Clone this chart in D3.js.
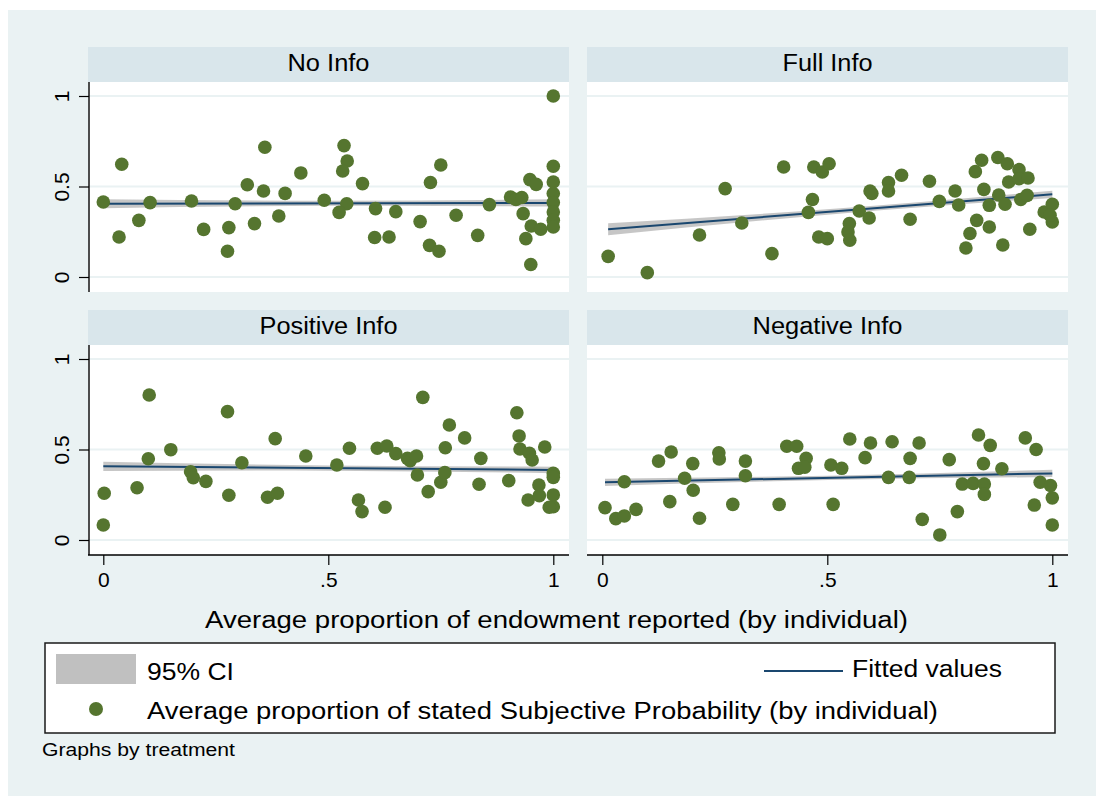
<!DOCTYPE html>
<html>
<head>
<meta charset="utf-8">
<script src="https://cdn.jsdelivr.net/npm/d3@7"></script>
<style>
    body { margin: 0; background: #fff; }
    svg { display: block; }
    text { font-family: "Liberation Sans", Arial, Helvetica, sans-serif; fill: #000; }
</style>
</head>
<body>
<div id="chart"></div>
<script>
const panelTitles = ["No Info", "Full Info", "Positive Info", "Negative Info"];

const noInfoX = [0, 0.041, 0.035, 0.079, 0.104, 0.196, 0.223, 0.279, 0.276, 0.293, 0.32, 0.336, 0.356, 0.359, 0.39,
    0.404, 0.439, 0.491, 0.535, 0.542, 0.532, 0.541, 0.524, 0.576, 0.605, 0.603, 0.635, 0.65, 0.704, 0.727,
    0.75, 0.725, 0.746, 0.784, 0.832, 0.858, 0.905, 0.917, 0.93, 0.933, 0.948, 0.962, 0.951, 0.939, 0.95,
    0.972, 1, 1, 1, 1, 1, 1, 1, 1];
const noInfoY = [0.414, 0.623, 0.221, 0.313, 0.411, 0.42, 0.263, 0.273, 0.142, 0.405, 0.51, 0.295, 0.475, 0.717, 0.337,
    0.462, 0.575, 0.424, 0.726, 0.641, 0.586, 0.405, 0.357, 0.516, 0.378, 0.218, 0.221, 0.361, 0.306, 0.522,
    0.619, 0.175, 0.142, 0.341, 0.23, 0.4, 0.442, 0.428, 0.439, 0.35, 0.538, 0.512, 0.282, 0.212, 0.069,
    0.264, 1.0, 0.612, 0.525, 0.461, 0.411, 0.359, 0.313, 0.276];

const fullInfoX = [0.013, 0.1, 0.216, 0.273, 0.31, 0.377, 0.403, 0.467, 0.458, 0.47, 0.489, 0.504, 0.481, 0.5, 0.549,
    0.546, 0.55, 0.571, 0.593, 0.595, 0.599, 0.636, 0.636, 0.665, 0.684, 0.727, 0.749, 0.784, 0.792, 0.808,
    0.817, 0.832, 0.829, 0.843, 0.848, 0.86, 0.86, 0.879, 0.881, 0.89, 0.895, 0.9, 0.903, 0.926, 0.926,
    0.946, 0.93, 0.944, 0.95, 0.982, 1, 1, 0.995];
const fullInfoY = [0.114, 0.024, 0.232, 0.488, 0.298, 0.129, 0.608, 0.428, 0.357, 0.608, 0.58, 0.626, 0.221, 0.212, 0.295,
    0.249, 0.203, 0.365, 0.326, 0.475, 0.461, 0.522, 0.475, 0.562, 0.319, 0.529, 0.418, 0.475, 0.398, 0.16,
    0.24, 0.313, 0.582, 0.645, 0.484, 0.396, 0.276, 0.66, 0.453, 0.177, 0.402, 0.626, 0.525, 0.593, 0.543,
    0.547, 0.428, 0.451, 0.264, 0.359, 0.402, 0.304, 0.341];

const positiveInfoX = [0, 0.002, 0.075, 0.102, 0.1, 0.15, 0.194, 0.2, 0.228, 0.276, 0.279, 0.308, 0.365, 0.387, 0.382,
    0.45, 0.519, 0.547, 0.567, 0.575, 0.609, 0.63, 0.626, 0.65, 0.676, 0.682, 0.696, 0.698, 0.71, 0.722,
    0.75, 0.759, 0.76, 0.769, 0.803, 0.835, 0.839, 0.901, 0.919, 0.924, 0.926, 0.947, 0.953, 0.944, 0.968,
    0.969, 0.981, 1, 1, 1, 1, 0.991];
const positiveInfoY = [0.083, 0.258, 0.289, 0.801, 0.449, 0.499, 0.377, 0.344, 0.324, 0.709, 0.247, 0.427, 0.236, 0.258, 0.56,
    0.464, 0.414, 0.507, 0.221, 0.157, 0.507, 0.519, 0.181, 0.477, 0.451, 0.438, 0.464, 0.359, 0.788, 0.267,
    0.319, 0.372, 0.51, 0.635, 0.564, 0.308, 0.451, 0.328, 0.703, 0.575, 0.503, 0.479, 0.442, 0.221, 0.304,
    0.245, 0.514, 0.368, 0.346, 0.249, 0.184, 0.181];

const negativeInfoX = [0.006, 0.03, 0.049, 0.049, 0.075, 0.125, 0.153, 0.15, 0.183, 0.201, 0.202, 0.216, 0.259, 0.26, 0.29,
    0.318, 0.318, 0.393, 0.41, 0.432, 0.453, 0.436, 0.45, 0.508, 0.532, 0.513, 0.55, 0.584, 0.596, 0.636,
    0.644, 0.684, 0.682, 0.704, 0.711, 0.75, 0.771, 0.789, 0.8, 0.824, 0.836, 0.847, 0.849, 0.849, 0.862,
    0.888, 0.94, 0.964, 0.973, 0.96, 0.996, 1, 1];
const negativeInfoY = [0.179, 0.118, 0.133, 0.322, 0.169, 0.436, 0.486, 0.212, 0.341, 0.422, 0.275, 0.12, 0.482, 0.448, 0.197,
    0.436, 0.355, 0.197, 0.518, 0.518, 0.451, 0.396, 0.402, 0.414, 0.396, 0.197, 0.558, 0.455, 0.536, 0.346,
    0.543, 0.451, 0.346, 0.536, 0.114, 0.028, 0.444, 0.157, 0.309, 0.313, 0.58, 0.422, 0.309, 0.252, 0.523,
    0.394, 0.564, 0.5, 0.319, 0.193, 0.301, 0.233, 0.083];

// fitted line value at smallest / largest x, and CI half width at start, middle, end
const fitStart = [0.405, 0.264, 0.407, 0.319];
const fitEnd = [0.409, 0.457, 0.387, 0.368];
const ciStart = [0.025, 0.033, 0.026, 0.02];
const ciMid = [0.014, 0.015, 0.014, 0.012];
const ciEnd = [0.02, 0.02, 0.018, 0.02];

const xTicks = [0, 0.5, 1];
const xTickLabels = ["0", ".5", "1"];
const yTicks = [0, 0.5, 1];
const yTickLabels = ["0", "0.5", "1"];

const legendLabels = ["95% CI", "Fitted values", "Average proportion of stated Subjective Probability (by individual)"];
const xTitle = "Average proportion of endowment reported (by individual)";
const noteText = "Graphs by treatment";

const panelX = [noInfoX, fullInfoX, positiveInfoX, negativeInfoX];
const panelY = [noInfoY, fullInfoY, positiveInfoY, negativeInfoY];

const width = 1096;
const height = 796;
const colLeft = [88, 587];
const rowTop = [47, 310];
const stripH = 35;
const plotW = 481;
const plotH = 210;

const bg = "#EAF2F3";
const stripColor = "#D9E6EB";
const dotColor = "#55752F";
const lineColor = "#1A476F";
const ciColor = "#C0C0C0";

const svg = d3.select("#chart")
    .append("svg")
    .attr("width", width)
    .attr("height", height);

svg.append("rect")
    .attr("x", 8).attr("y", 10)
    .attr("width", width - 8).attr("height", height - 10)
    .attr("fill", bg);

function fitText(sel, len) {
    sel.attr("textLength", len).attr("lengthAdjust", "spacingAndGlyphs");
    return sel;
}

const titleLen = [82, 90, 138, 150];

panelTitles.forEach((title, i) => {
    const col = i % 2;
    const row = Math.floor(i / 2);
    const left = colLeft[col];
    const stripTop = rowTop[row];
    const top = stripTop + stripH;

    const g = svg.append("g");

    g.append("rect")
        .attr("x", left).attr("y", stripTop)
        .attr("width", plotW).attr("height", stripH)
        .attr("fill", stripColor);

    fitText(g.append("text")
        .attr("x", left + plotW / 2)
        .attr("y", stripTop + 24)
        .attr("text-anchor", "middle")
        .style("font-size", "23px")
        .text(title), titleLen[i]);

    g.append("rect")
        .attr("x", left).attr("y", top)
        .attr("width", plotW).attr("height", plotH)
        .attr("fill", "#fff");

    const x = d3.scaleLinear().domain([0, 1]).range([left + 15.3, left + 465.3]);
    const y = d3.scaleLinear().domain([0, 1]).range([top + 195, top + 14]);

    // grid
    g.selectAll(".grid")
        .data(yTicks)
        .join("line")
        .attr("x1", left).attr("x2", left + plotW)
        .attr("y1", d => y(d)).attr("y2", d => y(d))
        .attr("stroke", bg)
        .attr("stroke-width", 2);

    const xs = panelX[i];
    const ys = panelY[i];
    const [xmin, xmax] = d3.extent(xs);
    const fit = v => fitStart[i] + (fitEnd[i] - fitStart[i]) * (v - xmin) / (xmax - xmin);
    const band = [
        { x: xmin, h: ciStart[i] },
        { x: (xmin + xmax) / 2, h: ciMid[i] },
        { x: xmax, h: ciEnd[i] }
    ];

    const area = d3.area()
        .x(d => x(d.x))
        .y0(d => y(fit(d.x) - d.h))
        .y1(d => y(fit(d.x) + d.h))
        .curve(d3.curveNatural);

    g.append("path")
        .datum(band)
        .attr("d", area)
        .attr("fill", ciColor)
        .attr("opacity", 0.9);

    g.append("line")
        .attr("x1", x(xmin)).attr("y1", y(fit(xmin)))
        .attr("x2", x(xmax)).attr("y2", y(fit(xmax)))
        .attr("stroke", lineColor)
        .attr("stroke-width", 2);

    g.selectAll(".dot")
        .data(d3.range(xs.length))
        .join("circle")
        .attr("cx", k => x(xs[k]))
        .attr("cy", k => y(ys[k]))
        .attr("r", 6.8)
        .attr("fill", dotColor);

    if (col === 0) {
        const ya = g.append("g")
            .attr("transform", "translate(" + (left + 1) + ",0)")
            .call(d3.axisLeft(y)
                .tickValues(yTicks)
                .tickSize(10)
                .tickSizeOuter(0)
                .tickFormat((d, k) => yTickLabels[k]));
        ya.select(".domain").remove();
        ya.append("line")
            .attr("x1", 0).attr("x2", 0)
            .attr("y1", top).attr("y2", top + plotH)
            .attr("stroke", "#000").attr("stroke-width", 1.4);
        ya.selectAll(".tick line").attr("stroke", "#000").attr("stroke-width", 1.2);
        ya.selectAll(".tick text")
            .attr("x", 0).attr("dy", 0)
            .attr("transform", "translate(-20,0) rotate(-90)")
            .attr("text-anchor", "middle")
            .style("font-size", "21px")
            .style("font-family", "'Liberation Sans', Arial, sans-serif")
            .attr("fill", "#000");
    }

    if (row === 1) {
        const xa = g.append("g")
            .attr("transform", "translate(0," + (top + plotH) + ")")
            .call(d3.axisBottom(x)
                .tickValues(xTicks)
                .tickSize(10)
                .tickSizeOuter(0)
                .tickFormat((d, k) => xTickLabels[k]));
        xa.select(".domain").remove();
        xa.append("line")
            .attr("x1", left).attr("x2", left + plotW)
            .attr("y1", 0).attr("y2", 0)
            .attr("stroke", "#000").attr("stroke-width", 1.4);
        xa.selectAll(".tick line").attr("stroke", "#000").attr("stroke-width", 1.2);
        xa.selectAll(".tick text")
            .attr("y", 32).attr("dy", 0)
            .style("font-size", "21px")
            .style("font-family", "'Liberation Sans', Arial, sans-serif")
            .attr("fill", "#000");
    }
});

// x axis title
fitText(svg.append("text")
    .attr("x", 556.5)
    .attr("y", 628)
    .attr("text-anchor", "middle")
    .style("font-size", "23px")
    .text(xTitle), 703);

// legend
const lg = svg.append("g");
lg.append("rect")
    .attr("x", 45).attr("y", 643)
    .attr("width", 1010).attr("height", 90)
    .attr("fill", "#fff")
    .attr("stroke", "#1a1a1a")
    .attr("stroke-width", 1.5);

lg.append("rect")
    .attr("x", 56).attr("y", 654)
    .attr("width", 80).attr("height", 30)
    .attr("fill", ciColor);
fitText(lg.append("text").attr("x", 147).attr("y", 680)
    .style("font-size", "23px").text(legendLabels[0]), 87);

lg.append("line")
    .attr("x1", 764).attr("x2", 843)
    .attr("y1", 671).attr("y2", 671)
    .attr("stroke", lineColor).attr("stroke-width", 2);
fitText(lg.append("text").attr("x", 852).attr("y", 677)
    .style("font-size", "23px").text(legendLabels[1]), 150);

lg.append("circle")
    .attr("cx", 96).attr("cy", 709).attr("r", 7)
    .attr("fill", dotColor);
fitText(lg.append("text").attr("x", 147).attr("y", 719)
    .style("font-size", "23px").text(legendLabels[2]), 791);

fitText(svg.append("text")
    .attr("x", 42).attr("y", 756)
    .style("font-size", "17.5px")
    .text(noteText), 193);
</script>
</body>
</html>
